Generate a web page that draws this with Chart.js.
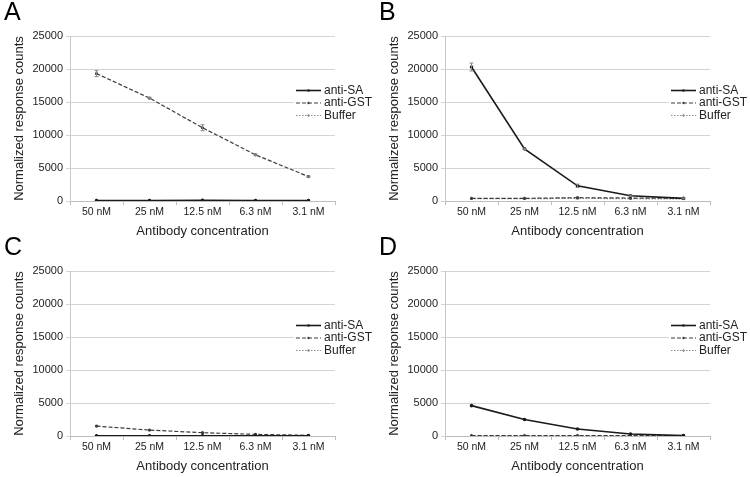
<!DOCTYPE html>
<html>
<head>
<meta charset="utf-8">
<script src="https://cdn.jsdelivr.net/npm/chart.js@4.4.1/dist/chart.umd.min.js"></script>
<style>
  html, body { margin: 0; padding: 0; background: #fff; }
  #wrap { position: relative; width: 750px; height: 477px; overflow: hidden; }
  #wrap canvas { position: absolute; }
</style>
</head>
<body>
<div id="wrap">
  <canvas id="panelA" width="375" height="240" style="left:0;top:0"></canvas>
  <canvas id="panelB" width="375" height="240" style="left:375px;top:0"></canvas>
  <canvas id="panelC" width="375" height="240" style="left:0;top:235px"></canvas>
  <canvas id="panelD" width="375" height="240" style="left:375px;top:235px"></canvas>
</div>
<script>
// categories (x axis)
const categories = ['50 nM', '25 nM', '12.5 nM', '6.3 nM', '3.1 nM'];
const seriesNames = ['anti-SA', 'anti-GST', 'Buffer'];
const yTicks = [0, 5000, 10000, 15000, 20000, 25000];

// panel A
const antiSA_A  = [80, 80, 100, 80, 60];
const antiGST_A = [19300, 15600, 11100, 7000, 3700];
const buffer_A  = [60, 60, 60, 60, 60];
const errGST_A  = [450, 100, 450, 100, 80];

// panel B
const antiSA_B  = [20300, 7900, 2300, 800, 400];
const antiGST_B = [400, 400, 500, 450, 400];
const buffer_B  = [350, 350, 400, 350, 300];
const errSA_B   = [600, 100, 250, 100, 80];

// panel C
const antiSA_C  = [30, 30, 30, 30, 30];
const antiGST_C = [1500, 900, 500, 250, 100];
const buffer_C  = [20, 20, 20, 20, 20];

// panel D
const antiSA_D  = [4600, 2500, 1050, 300, 50];
const antiGST_D = [50, 50, 50, 50, 50];
const buffer_D  = [30, 30, 30, 30, 30];

const FONT = "'Liberation Sans', Arial, sans-serif";

// draws vertical error bars for datasets that carry an "errors" array
const errorBars = {
    id: 'errorBars',
    afterDatasetsDraw(chart) {
        const ctx = chart.ctx;
        const y = chart.scales.y;
        chart.data.datasets.forEach((ds, i) => {
            if (!ds.errors) return;
            const meta = chart.getDatasetMeta(i);
            ctx.save();
            ctx.strokeStyle = '#888';
            ctx.lineWidth = 1;
            meta.data.forEach((pt, j) => {
                const e = ds.errors[j];
                if (!e) return;
                const top = y.getPixelForValue(ds.data[j] + e);
                const bot = y.getPixelForValue(ds.data[j] - e);
                ctx.beginPath();
                ctx.moveTo(pt.x, top); ctx.lineTo(pt.x, bot);
                ctx.moveTo(pt.x - 2, top); ctx.lineTo(pt.x + 2, top);
                ctx.moveTo(pt.x - 2, bot); ctx.lineTo(pt.x + 2, bot);
                ctx.stroke();
            });
            ctx.restore();
        });
    }
};

// Excel style legend sitting over the right edge of the plot
const overlayLegend = {
    id: 'overlayLegend',
    afterDraw(chart) {
        const ctx = chart.ctx;
        const x0 = 296, rowY = [90.5, 103, 115.5];
        ctx.save();
        ctx.fillStyle = '#fff';
        ctx.fillRect(x0 - 2, 83, 375 - x0 + 2, 40);
        chart.data.datasets.forEach((ds, i) => {
            const yy = rowY[i];
            ctx.strokeStyle = ds.borderColor;
            ctx.lineWidth = ds.borderWidth;
            ctx.setLineDash(ds.borderDash || []);
            ctx.beginPath();
            ctx.moveTo(x0, yy); ctx.lineTo(x0 + 25, yy);
            ctx.stroke();
            ctx.setLineDash([]);
            ctx.fillStyle = ds.borderColor;
            ctx.beginPath();
            ctx.arc(x0 + 12.5, yy, 1.2, 0, Math.PI * 2);
            ctx.fill();
            ctx.fillStyle = '#222';
            ctx.font = '12px ' + FONT;
            ctx.textBaseline = 'middle';
            ctx.fillText(ds.label, x0 + 28, yy);
        });
        ctx.restore();
    }
};

function makePanel(id, letter, sa, gst, buf, errSA, errGST) {
    new Chart(document.getElementById(id), {
        type: 'line',
        data: {
            labels: categories,
            datasets: [{
                label: seriesNames[0],
                data: sa,
                errors: errSA,
                borderColor: '#1a1a1a',
                backgroundColor: '#1a1a1a',
                borderWidth: 1.6,
                pointRadius: 1,
                tension: 0
            }, {
                label: seriesNames[1],
                data: gst,
                errors: errGST,
                borderColor: '#3c3c3c',
                backgroundColor: '#3c3c3c',
                borderWidth: 1.2,
                borderDash: [4, 2],
                pointRadius: 1,
                tension: 0
            }, {
                label: seriesNames[2],
                data: buf,
                borderColor: '#8a8a8a',
                backgroundColor: '#8a8a8a',
                borderWidth: 1.2,
                borderDash: [1.5, 1.5],
                pointRadius: 1,
                pointStyle: 'triangle',
                tension: 0
            }]
        },
        options: {
            responsive: false,
            animation: false,
            devicePixelRatio: 1,
            layout: { padding: { left: 4, right: 40, top: 0, bottom: 0 } },
            plugins: {
                legend: { display: false },
                tooltip: { enabled: false },
                title: {
                    display: true,
                    text: letter,
                    align: 'start',
                    color: '#000',
                    font: { family: FONT, size: 25, weight: 'normal', lineHeight: 1 },
                    padding: { top: 1, bottom: 10 }
                }
            },
            scales: {
                x: {
                    offset: true,
                    afterFit(scale) { scale.height = 39; },
                    grid: {
                        offset: true,
                        drawOnChartArea: false,
                        color: '#bdbdbd',
                        tickLength: 4
                    },
                    border: { color: '#bdbdbd' },
                    ticks: {
                        color: '#222',
                        padding: 1,
                        font: { family: FONT, size: 10.5 },
                        maxRotation: 0
                    },
                    title: {
                        display: true,
                        text: 'Antibody concentration',
                        color: '#222',
                        font: { family: FONT, size: 13 },
                        padding: { top: 0, bottom: 1 }
                    }
                },
                y: {
                    min: 0,
                    max: 25000,
                    afterFit(scale) { scale.width = 66; },
                    afterBuildTicks(scale) { scale.ticks = yTicks.map(v => ({ value: v })); },
                    grid: { color: '#d4d4d4', tickLength: 4 },
                    border: { color: '#c8c8c8' },
                    ticks: {
                        color: '#222',
                        padding: 3,
                        font: { family: FONT, size: 11 },
                        callback: (v) => String(v)
                    },
                    title: {
                        display: true,
                        text: 'Normalized response counts',
                        color: '#222',
                        font: { family: FONT, size: 13 },
                        padding: { top: 8, bottom: 0 }
                    }
                }
            }
        },
        plugins: [errorBars, overlayLegend]
    });
}

makePanel('panelA', 'A', antiSA_A, antiGST_A, buffer_A, null, errGST_A);
makePanel('panelB', 'B', antiSA_B, antiGST_B, buffer_B, errSA_B, null);
makePanel('panelC', 'C', antiSA_C, antiGST_C, buffer_C, null, null);
makePanel('panelD', 'D', antiSA_D, antiGST_D, buffer_D, null, null);
</script>
</body>
</html>
